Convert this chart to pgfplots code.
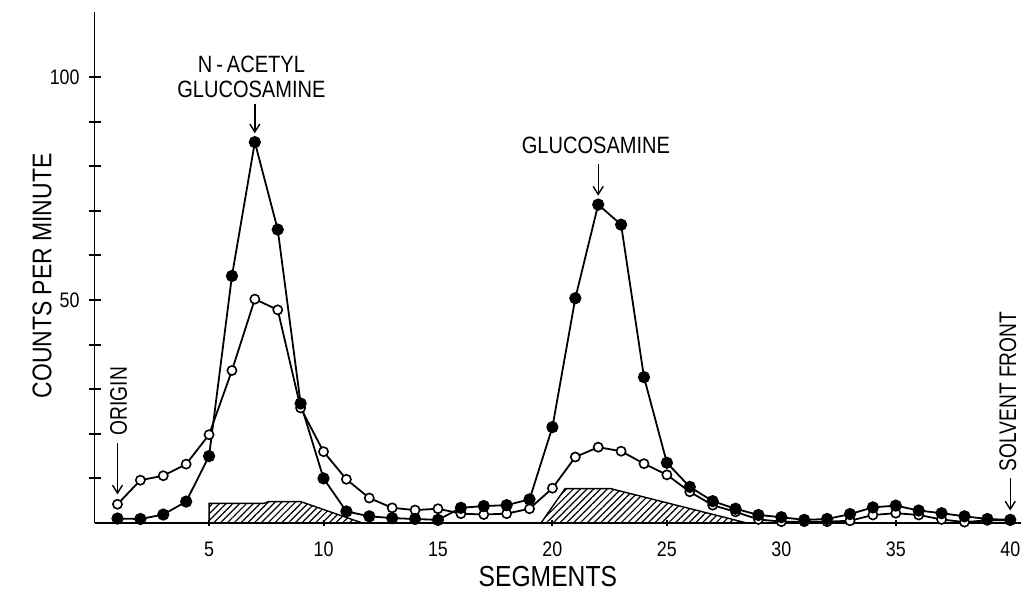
\documentclass[border=0pt]{standalone}
\usepackage{fontspec}
\setmainfont{Liberation Sans}[FakeStretch=0.85]
\newfontfamily\annot{Liberation Sans}[FakeStretch=0.8]
\usepackage{pgfplots}
\pgfplotsset{compat=1.18}
\usetikzlibrary{arrows.meta,patterns.meta}

\pgfplotstableread{
x y
1 1.0
2 0.9
3 1.9
4 4.8
5 15.0
6 55.4
7 85.4
8 65.8
9 26.8
10 10.0
11 2.6
12 1.5
13 1.1
14 0.9
15 0.7
16 3.4
17 3.8
18 4.0
19 5.3
20 21.5
21 50.4
22 71.4
23 66.9
24 32.7
25 13.5
26 8.1
27 4.9
28 3.2
29 1.8
30 1.3
31 0.7
32 0.9
33 2.0
34 3.5
35 3.9
36 2.8
37 2.2
38 1.5
39 0.9
40 0.7
}\filled

\pgfplotstableread{
x y
1 4.2
2 9.6
3 10.6
4 13.2
5 19.8
6 34.2
7 50.2
8 47.8
9 25.8
10 16.0
11 9.8
12 5.6
13 3.4
14 2.9
15 3.2
16 2.1
17 1.9
18 2.1
19 3.2
20 7.8
21 14.8
22 17.0
23 16.1
24 13.3
25 10.8
26 7.0
27 4.0
28 2.5
29 0.8
30 0.3
31 0.3
32 0.3
33 0.5
34 1.8
35 2.2
36 1.8
37 0.8
38 0.2
39 0.6
40 0.6
}\open

\newcommand{\lab}{\fontsize{11.8}{12.2}\selectfont}
\newcommand{\side}{\annot\fontsize{12}{13}\selectfont}

\begin{document}
\begin{tikzpicture}
\begin{axis}[
  scale only axis, width=463.2pt, height=255.3pt,
  xmin=0, xmax=40.47, ymin=0, ymax=114.5,
  axis x line*=bottom, axis y line*=left,
  axis line style={line width=0.8pt},
  xtick={5,10,...,40}, ytick={10,20,...,100},
  yticklabels={{},{},{},{},50,{},{},{},{},100},
  tick align=center, major tick length=6pt,
  xtick style={/pgfplots/major tick length=3pt},
  tick style={line width=1pt, black},
  /pgf/number format/assume math mode=true,
  ticklabel style={font=\fontsize{10.5}{12}\selectfont},
  xticklabel style={yshift=-3pt},
  yticklabel style={xshift=-1pt},
  clip=false,
]
\coordinate (bl) at (rel axis cs:0,0);

\addplot[draw=black, line width=0.7pt, pattern={Lines[angle=45,distance=2.4pt,line width=0.6pt]}]
  coordinates {(5,0) (5,4.4) (7.4,4.4) (7.6,4.8) (9,4.8) (11.7,0)} -- cycle;
\addplot[draw=black, line width=0.7pt, pattern={Lines[angle=45,distance=2.4pt,line width=0.6pt]}]
  coordinates {(19.5,0) (20.55,7.7) (22.55,7.7) (28.5,0)} -- cycle;

\addplot[black, line width=0.9pt, mark=*, mark size=2.3pt,
  mark options={fill=white, line width=0.8pt}] table[x=x,y=y] {\open};
\addplot[black, line width=0.9pt, mark=*, mark size=2.6pt,
  mark options={fill=black}] table[x=x,y=y] {\filled};

% annotations
\node[align=center, font=\lab, inner sep=0pt] at (axis cs:6.85,100) {N\,-\,ACETYL\\GLUCOSAMINE};
\draw[-{Straight Barb[length=4pt,width=5pt]}, line width=0.7pt] (axis cs:7,94) -- (axis cs:7,87.4);

\node[font=\lab, inner sep=0pt] at (axis cs:21.9,84.7) {GLUCOSAMINE};
\draw[-{Straight Barb[length=4pt,width=5pt]}, line width=0.7pt] (axis cs:22,80.6) -- (axis cs:22,73.4);

\node[font=\side, rotate=90, anchor=west, inner sep=0pt] at (axis cs:1.05,19.6) {ORIGIN};
\draw[-{Straight Barb[length=4pt,width=5pt]}, line width=0.7pt] (axis cs:1,18) -- (axis cs:1,6.4);

\node[font=\side, rotate=90, anchor=west, inner sep=0pt] at (axis cs:39.9,11.5) {SOLVENT FRONT};
\draw[-{Straight Barb[length=4pt,width=5pt]}, line width=0.7pt] (axis cs:40,10) -- (axis cs:40,2.8);

% axis labels
\node[font=\fontsize{13.5}{14}\selectfont, rotate=90, inner sep=0pt] at ([xshift=-26.3pt]axis cs:0,55.4) {COUNTS PER MINUTE};
\node[font=\fontsize{14.5}{15}\selectfont, inner sep=0pt] at ([yshift=-27pt]axis cs:19.8,0) {SEGMENTS};
\end{axis}
\pgfresetboundingbox
\path[use as bounding box] ([xshift=-47.3pt,yshift=-35.5pt]bl) rectangle ([xshift=463.2pt,yshift=261.5pt]bl);
\end{tikzpicture}
\end{document}
